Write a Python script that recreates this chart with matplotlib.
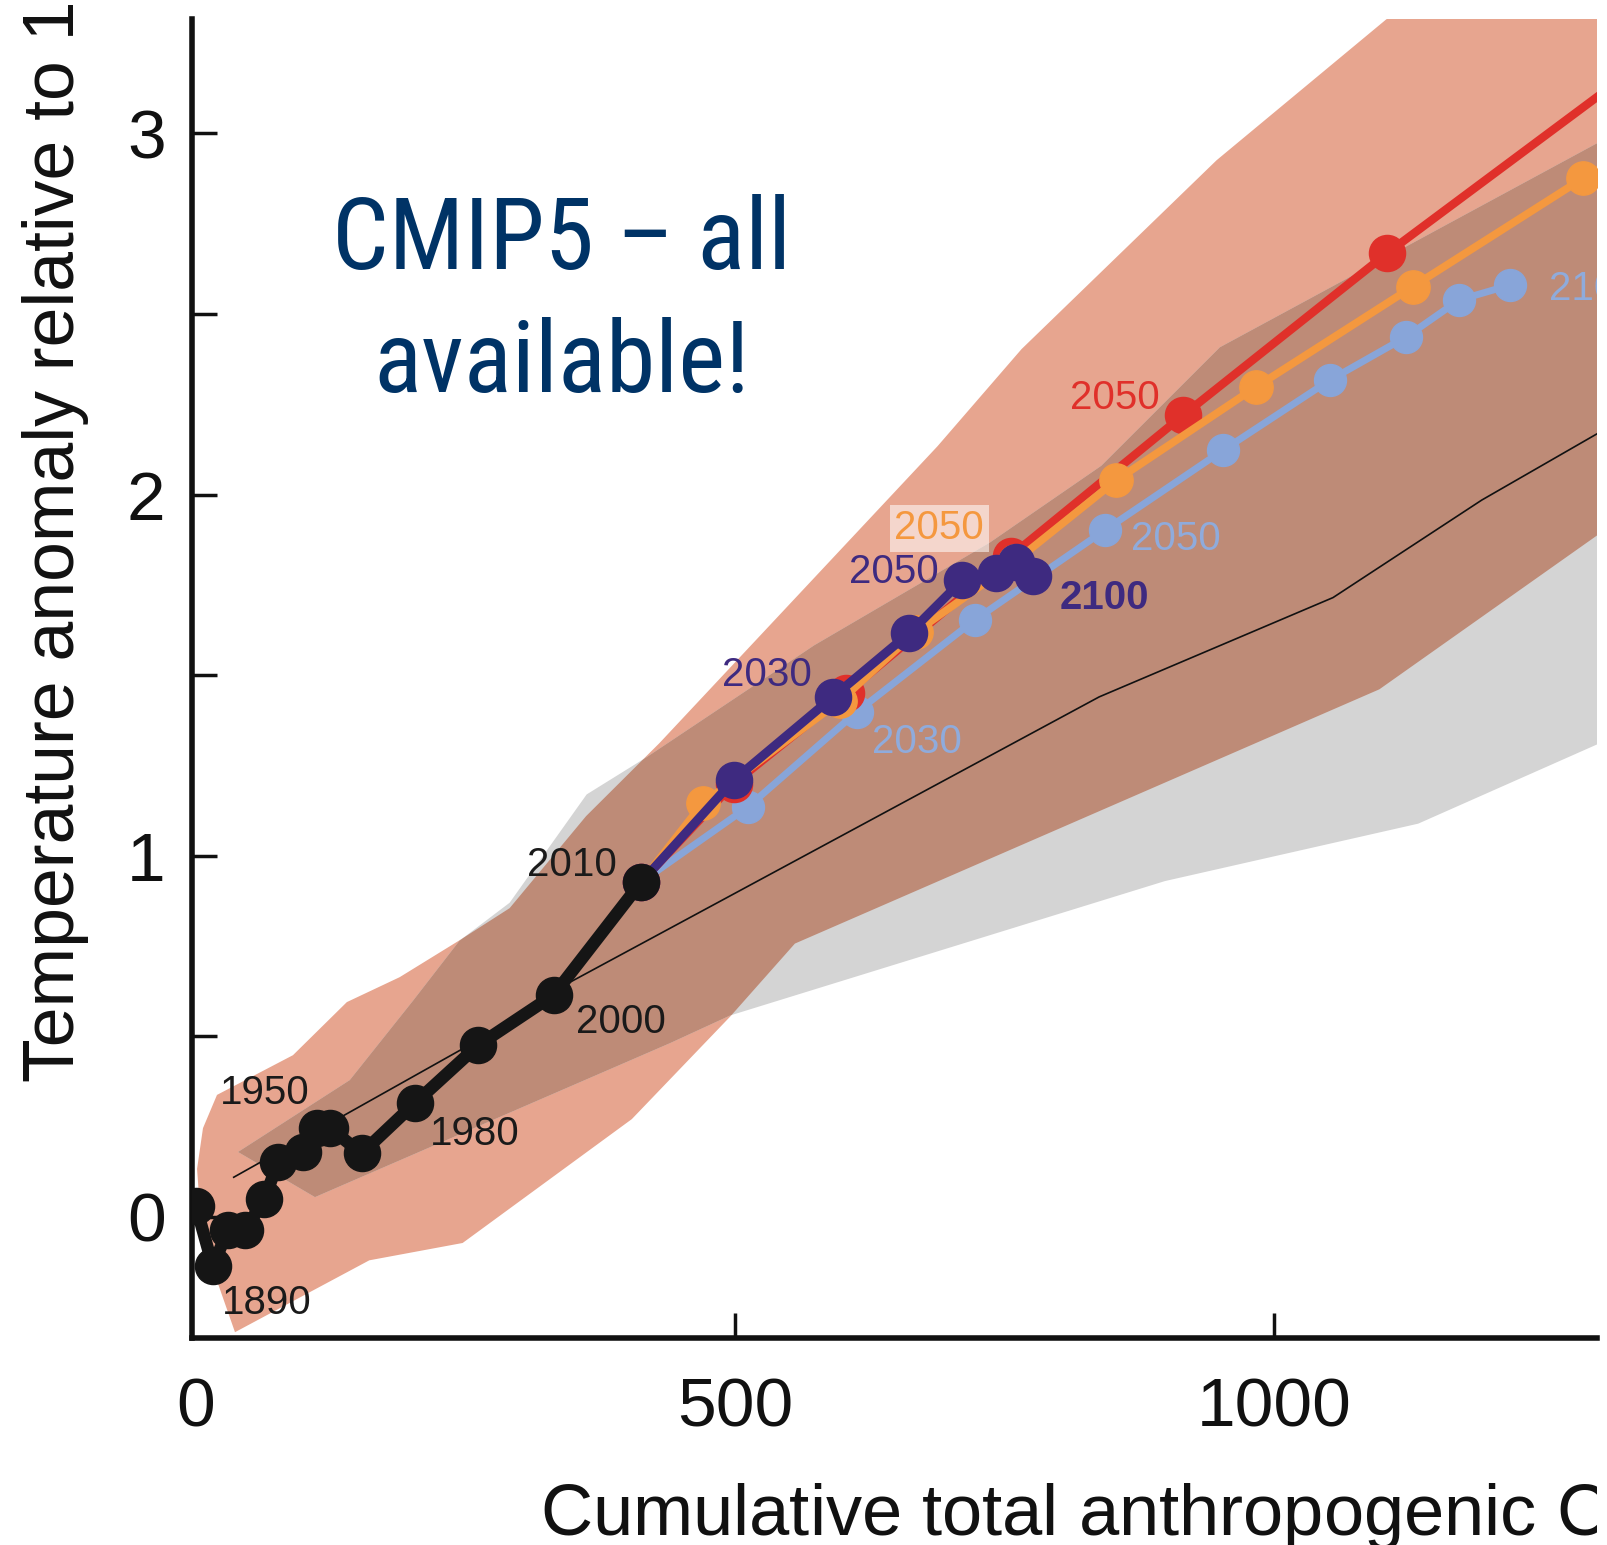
import numpy as np
import matplotlib
matplotlib.use("Agg")
import matplotlib.pyplot as plt
from matplotlib import font_manager
from matplotlib.transforms import Bbox

plt.rcParams['font.family'] = ['Liberation Sans', 'DejaVu Sans']

# Data (cumulative CO2 emissions on x, temperature anomaly [C] on y)

hist_x = [0, 15.5, 30, 45.5, 63.4, 76.3, 99.5, 112, 124.3, 153.7, 203, 262, 332, 413]
hist_y = [0.03, -0.135, -0.036, -0.036, 0.049, 0.153, 0.181, 0.246, 0.246, 0.176,
          0.315, 0.476, 0.615, 0.927]

rcp26_x = [413, 499, 591, 662, 711, 742, 761, 777]
rcp26_y = [0.927, 1.21, 1.44, 1.617, 1.763, 1.782, 1.813, 1.775]

rcp45_x = [413, 512, 613, 723, 843, 953, 1052, 1123, 1172, 1219]
rcp45_y = [0.927, 1.135, 1.398, 1.654, 1.901, 2.123, 2.317, 2.437, 2.539, 2.58]

rcp60_x = [413, 470, 598, 668, 760, 854, 984, 1129, 1287, 1450]
rcp60_y = [0.927, 1.145, 1.43, 1.62, 1.815, 2.04, 2.299, 2.576, 2.876, 3.15]

rcp85_x = [413, 499, 603, 756, 916, 1105, 1340]
rcp85_y = [0.927, 1.20, 1.45, 1.83, 2.22, 2.668, 3.19]

onepct_x = [35, 250, 347, 838, 1055, 1193, 1330]
onepct_y = [0.11, 0.47, 0.65, 1.44, 1.715, 1.985, 2.22]

# RCP plume (upper / lower edge)
rcp_up_x = [1, 6.5, 19.5, 90, 140, 189, 245, 291, 362, 430, 688, 766, 947, 1104, 1250, 1450]
rcp_up_y = [0.133, 0.246, 0.338, 0.448, 0.595, 0.664, 0.767, 0.855, 1.11, 1.312, 2.134,
            2.403, 2.926, 3.315, 3.65, 4.0]
rcp_lo_x = [3.8, 13.3, 36.2, 160.8, 247.4, 404.4, 495.7, 555.7, 1098, 1308, 1450]
rcp_lo_y = [0.018, -0.124, -0.319, -0.12, -0.072, 0.271, 0.555, 0.757, 1.461, 1.904, 2.2]

# 1%/yr CO2 plume (upper / lower edge)
pct_up_x = [39, 142.7, 201.7, 244.5, 291, 362.5, 418.6, 573.7, 736.4, 840, 950, 1300, 1450]
pct_up_y = [0.180, 0.379, 0.600, 0.765, 0.87, 1.17, 1.274, 1.583, 1.867, 2.08, 2.408,
            2.973, 3.2]
pct_lo_x = [39, 110.4, 439.6, 495.7, 899, 1134, 1308, 1450]
pct_lo_y = [0.180, 0.055, 0.481, 0.558, 0.930, 1.089, 1.319, 1.5]

x_ticks = [0, 500, 1000]
x_tick_labels = ['0', '500', '1000']
y_ticks = [0, 0.5, 1, 1.5, 2, 2.5, 3]
y_tick_labels = ['0', '', '1', '', '2', '', '3']

# (text, x, y, colour, weight)
year_labels = [
    ('1890', 24, -0.27, '#1a1a1a', 'normal'),
    ('1950', 22, 0.314, '#1a1a1a', 'normal'),
    ('1980', 217, 0.198, '#1a1a1a', 'normal'),
    ('2000', 353, 0.510, '#1a1a1a', 'normal'),
    ('2010', 307, 0.945, '#1a1a1a', 'normal'),
    ('2030', 488, 1.47, '#3e2a80', 'normal'),
    ('2050', 606, 1.755, '#3e2a80', 'normal'),
    ('2100', 801, 1.683, '#3e2a80', 'bold'),
    ('2030', 627, 1.286, '#8fabdc', 'normal'),
    ('2050', 868, 1.848, '#8fabdc', 'normal'),
    ('2100', 1255, 2.539, '#8fabdc', 'normal'),
    ('2050', 811, 2.237, '#e0302a', 'normal'),
]

PINK = '#e7a58f'
GREY = '#d4d4d4'
BROWN = '#be8b77'
INK = '#111111'


def have_font(name):
    try:
        font_manager.findfont(font_manager.FontProperties(family=name),
                              fallback_to_default=False)
        return True
    except Exception:
        return False


# --------------------------------------------------------------------------------------------------

fig = plt.figure(figsize=(16.08, 15.45), dpi=100)
ax = fig.add_axes([0.1194, 0.134, 0.8738, 0.8537])

ax.set_xlim(-3.7, 1300)
ax.set_ylim(-0.335, 3.317)

# plumes: overlap of the two ranges drawn darker
rcp_patch = ax.fill(rcp_up_x + rcp_lo_x[::-1], rcp_up_y + rcp_lo_y[::-1],
                    color=PINK, lw=0, zorder=1)[0]
ax.fill(pct_up_x + pct_lo_x[::-1], pct_up_y + pct_lo_y[::-1], color=GREY, lw=0, zorder=1.1)
overlap = ax.fill(pct_up_x + pct_lo_x[::-1], pct_up_y + pct_lo_y[::-1],
                  color=BROWN, lw=0, zorder=1.2)[0]
overlap.set_clip_path(rcp_patch)

ax.plot(onepct_x, onepct_y, color=INK, lw=1.2, zorder=2)

ax.plot(rcp45_x, rcp45_y, '-o', color='#88a5d9', lw=5, markersize=23, zorder=3)
ax.plot(rcp85_x, rcp85_y, '-o', color='#e0302a', lw=6, markersize=26, zorder=3.1)
ax.plot(rcp60_x, rcp60_y, '-o', color='#f4983f', lw=5.5, markersize=24, zorder=3.2)
ax.plot(rcp26_x, rcp26_y, '-o', color='#3e2a80', lw=6.5, markersize=26, zorder=3.3)
ax.plot(hist_x, hist_y, '-o', color='#151515', lw=9, markersize=26, zorder=4)

for txt, x, y, c, w in year_labels:
    ax.text(x, y, txt, color=c, fontsize=29, fontweight=w, va='baseline', ha='left',
            zorder=5, clip_on=True)

ax.text(648, 1.876, '2050', color='#f4983f', fontsize=29, va='baseline', ha='left', zorder=5,
        bbox=dict(boxstyle='square,pad=0.12', facecolor='white', edgecolor='none', alpha=0.55))

# axes styling
for side in ['top', 'right']:
    ax.spines[side].set_visible(False)
for side in ['left', 'bottom']:
    ax.spines[side].set_linewidth(4)
    ax.spines[side].set_color(INK)

ax.set_xticks(x_ticks)
ax.set_xticklabels(x_tick_labels)
ax.set_yticks(y_ticks)
ax.set_yticklabels(y_tick_labels)
ax.tick_params(axis='both', direction='in', length=18, width=2.5, colors=INK, labelsize=50)
ax.tick_params(axis='x', pad=28)
ax.tick_params(axis='y', pad=19)
ax.xaxis.get_major_ticks()[0].tick1line.set_visible(False)  # sits on the spine

# axis titles, cut at the right/top like the source crop
fig_clip = Bbox.from_extents(0, 0, 1597, 1545)
fig.text(0.0345, 0.2997, 'Temperature anomaly relative to 1861\u20131880 (\u00b0C)', rotation=90,
         ha='center', va='bottom', fontsize=51.5, color=INK)
xl = fig.text(0.3358, 0.0065,
              'Cumulative total anthropogenic CO$_2$ emissions from 1870 (GtCO$_2$)',
              ha='left', va='baseline', fontsize=52, color=INK)
xl.set_clip_box(fig_clip)
xl.set_clip_on(True)

# headline (condensed face if one is installed)
if have_font('Liberation Sans Narrow'):
    head_family, head_size = 'Liberation Sans Narrow', 76
elif have_font('Roboto Condensed'):
    head_family, head_size = 'Roboto Condensed', 72
else:
    head_family, head_size = 'Liberation Sans', 66

fig.text(0.3495, (1545 - 269) / 1545, 'CMIP5 \u2013 all', ha='center', va='baseline',
         fontsize=head_size, color='#003366', family=head_family)
fig.text(0.3495, (1545 - 392) / 1545, 'available!', ha='center', va='baseline',
         fontsize=head_size, color='#003366', family=head_family)

fig.savefig('out.png', dpi=100)
